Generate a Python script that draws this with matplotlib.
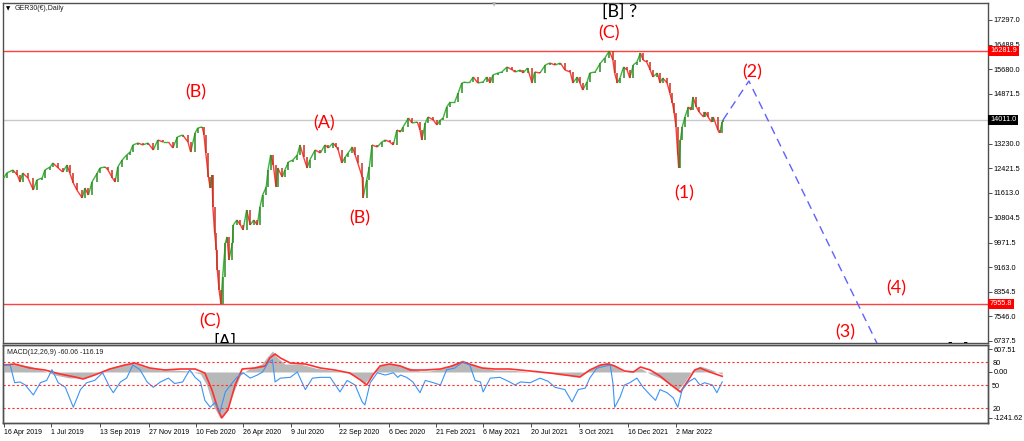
import numpy as np
import matplotlib.pyplot as plt
from matplotlib.collections import LineCollection
from matplotlib.transforms import blended_transform_factory

plt.rcParams['font.family'] = ['Liberation Sans', 'DejaVu Sans']

# GER30 dzienny: numer swiecy (od 16 Apr 2019) i kurs zamkniecia
swieca = np.array([
    0, 3, 10, 15, 18, 21, 27, 33, 37, 43, 46, 52, 55, 61, 66, 71, 74, 78, 82, 88,
    91, 95, 99, 105, 108, 114, 117, 122, 125, 128, 133, 138, 142, 145, 151, 156, 162, 168, 173, 179,
    185, 190, 195, 201, 207, 210, 215, 218, 223, 225, 227, 230, 232, 234, 235, 237, 239, 240, 242, 244,
    246, 249, 251, 253, 257, 258, 262, 266, 269, 273, 277, 281, 285, 288, 291, 295, 297, 300, 303, 306,
    308, 313, 316, 320, 325, 330, 333, 337, 341, 344, 350, 356, 361, 365, 370, 374, 376, 380, 384, 387,
    392, 395, 398, 403, 404, 408, 411, 414, 420, 425, 429, 434, 438, 442, 446, 449, 455, 459, 465, 468,
    470, 474, 477, 483, 487, 491, 494, 498, 502, 507, 511, 515, 519, 524, 528, 533, 539, 543, 547, 550,
    556, 560, 566, 572, 575, 581, 584, 589, 594, 597, 603, 609, 614, 620, 626, 631, 637, 640, 645, 648,
    651, 656, 659, 665, 671, 676, 681, 685, 687, 690, 693, 697, 701, 704, 708, 712, 716, 719, 723, 727,
    730, 735, 738, 741, 746, 749, 752, 754, 756, 758, 759, 761, 763, 766, 770, 773, 775, 779, 782, 787,
    789, 792, 796, 798, 803, 805, 808, 809])
zamkniecie = np.array([
    12099, 12263, 12362, 12198, 11967, 12263, 12099, 11704, 12033, 12099, 12362, 12461, 12592, 12428, 12296, 12527, 12263, 11934, 11704, 11441,
    11770, 11540, 11967, 12263, 12428, 12461, 12362, 12099, 11967, 12461, 12691, 12856, 12954, 13185, 13250, 13185, 13250, 13020, 13349, 13283,
    13283, 13086, 13448, 13514, 13283, 12954, 13579, 13744, 13777, 13514, 12921, 12132, 11770, 12198, 11145, 10289, 9727, 9072, 8414, 7960,
    8842, 9960, 10158, 9401, 9960, 10553, 10717, 10553, 10388, 11046, 10553, 10717, 10553, 11145, 11540, 11803, 12362, 12856, 12527, 11803,
    12428, 12132, 12362, 12625, 12691, 12856, 13185, 12790, 12428, 12691, 13020, 12921, 13185, 13086, 13250, 13119, 13020, 12592, 12790, 12921,
    13119, 12856, 12592, 12132, 11441, 12033, 12461, 13185, 13119, 13283, 13349, 13283, 13185, 13678, 13612, 13777, 14073, 13908, 13941, 13678,
    13349, 13908, 14106, 14007, 13843, 14007, 14073, 14435, 14599, 14599, 14895, 15224, 15257, 15257, 15422, 15224, 15257, 15422, 15224, 15488,
    15553, 15586, 15751, 15652, 15586, 15652, 15553, 15718, 15224, 15586, 15553, 15817, 15882, 15817, 15882, 15652, 15586, 15224, 15422, 15224,
    14994, 15257, 15553, 15586, 15882, 16047, 16280, 15981, 15553, 15224, 15389, 15751, 15652, 15389, 15817, 15915, 16211, 15981, 15915, 15652,
    15422, 15553, 15224, 15389, 15224, 14895, 14566, 14237, 13777, 12856, 12430, 13349, 13777, 14106, 14435, 14336, 14764, 14435, 14270, 14106,
    14270, 14106, 13941, 14106, 13678, 13579, 13941, 14011])

opor = 16281.9
wsparcie = 7955.8
cena_biezaca = 14011.0

# prognoza: (2) w gore, potem (3) w dol
prognoza_swieca = [809, 838, 1010]
prognoza_cena = [14011, 15290, 4990]

# oznaczenia fal: (swieca, cena, tekst, kolor)
fale = [
    (216, 14928, '(B)', 'red'),
    (360, 13908, '(A)', 'red'),
    (400, 10783, '(B)', 'red'),
    (232, 7394, '(C)', 'red'),
    (249, 6700, '[A]', 'black'),
    (681, 16869, '(C)', 'red'),
    (693, 17560, '[B] ?', 'black'),
    (765, 11605, '(1)', 'red'),
    (842, 15586, '(2)', 'red'),
    (946, 7032, '(3)', 'red'),
    (1004, 8480, '(4)', 'red'),
    (1073, 6420, '[C]', 'black'),
]

ceny_osi = [17297.0, 16488.5, 15680.0, 14871.5, 13230.0, 12421.5, 11613.0,
            10804.5, 9971.5, 9163.0, 8354.5, 7546.0, 6737.5]

# MACD(12,26,9): histogram i sygnal
macd_nr = [0, 12, 29, 46, 57, 74, 89, 102, 119, 136, 145, 159, 176, 192, 209, 221, 228, 235, 243, 250,
           257, 266, 277, 290, 297, 302, 307, 316, 333, 350, 367, 384, 398, 406, 414, 423, 434, 446, 457, 468,
           479, 496, 507, 516, 524, 536, 552, 569, 592, 614, 631, 646, 657, 668, 680, 687, 698, 708, 716, 727,
           738, 749, 758, 766, 774, 783, 794, 808]
macd = [216, 216, 162, 27, -81, -162, -162, -54, 108, 216, 243, 135, 54, 54, 27, -54, -351, -891, -1240, -1080,
        -621, -81, 108, 216, 432, 567, 405, 216, 216, 108, 54, 0, -135, -297, -81, 162, 216, 162, 108, 27,
        27, 108, 243, 324, 243, 135, 54, 54, 0, -27, -54, -135, 54, 189, 270, 162, 0, 27, 108, -54,
        -162, -324, -486, -270, 27, 162, 81, -60]
sygnal_nr = [0, 12, 29, 46, 63, 80, 89, 102, 119, 136, 147, 164, 181, 198, 215, 226, 234, 241, 245, 252,
             260, 268, 282, 294, 299, 305, 311, 322, 339, 356, 372, 389, 401, 408, 415, 423, 434, 446, 457, 474,
             491, 504, 516, 527, 538, 552, 569, 592, 614, 631, 648, 659, 671, 680, 687, 698, 708, 716, 727, 738,
             749, 761, 770, 777, 783, 794, 808]
sygnal = [189, 216, 108, 54, -54, -135, -189, -81, 81, 189, 243, 108, 54, 81, 81, -27, -486, -1026, -1240, -1026,
          -351, 81, 108, 162, 378, 486, 378, 243, 216, 108, 54, -27, -216, -351, -81, 162, 216, 162, 54, 54,
          81, 162, 270, 189, 108, 81, 81, 27, -27, -81, -135, 54, 189, 216, 162, 27, 0, 135, 54, -108,
          -324, -540, -216, 54, 108, 0, -116]

# oscylator (niebieski) z poziomami 80/50/20
osc_nr = [0, 7, 12, 18, 24, 33, 41, 48, 54, 61, 69, 78, 86, 93, 102, 111, 119, 123, 131, 138,
          145, 153, 161, 168, 176, 185, 192, 201, 209, 215, 221, 226, 232, 237, 243, 249, 257, 262, 269, 277,
          285, 291, 297, 302, 305, 311, 322, 330, 339, 347, 356, 367, 378, 386, 395, 403, 406, 412, 420, 429,
          438, 443, 446, 453, 460, 468, 474, 483, 491, 498, 507, 516, 524, 530, 536, 539, 547, 558, 569, 575,
          581, 592, 603, 612, 620, 631, 639, 646, 654, 659, 667, 674, 682, 685, 687, 693, 698, 704, 712, 719,
          727, 733, 738, 746, 753, 758, 763, 770, 777, 783, 788, 797, 802, 808]
osc = [76, 76, 53, 54, 50, 37, 53, 56, 70, 53, 47, 21, 44, 53, 56, 66, 47, 40, 54, 59,
       76, 70, 54, 47, 54, 59, 52, 54, 70, 60, 54, 30, 21, 27, 15, 41, 53, 60, 66, 59,
       63, 67, 79, 83, 54, 59, 60, 67, 44, 59, 60, 60, 41, 56, 50, 28, 24, 53, 66, 63,
       66, 60, 63, 60, 54, 40, 56, 53, 50, 70, 72, 80, 76, 56, 54, 41, 59, 60, 54, 50,
       54, 53, 59, 55, 47, 44, 28, 44, 46, 59, 72, 74, 76, 53, 21, 34, 50, 53, 59, 47,
       37, 30, 44, 40, 33, 21, 44, 54, 59, 50, 53, 50, 40, 54]
poziomy = [80, 50, 20]

daty_nr = [0, 53, 108, 163, 216, 269, 323, 377, 433, 486, 539, 593, 647, 702, 756]
daty = ['16 Apr 2019', '1 Jul 2019', '13 Sep 2019', '27 Nov 2019', '10 Feb 2020',
        '26 Apr 2020', '9 Jul 2020', '22 Sep 2020', '6 Dec 2020', '21 Feb 2021',
        '6 May 2021', '20 Jul 2021', '3 Oct 2021', '16 Dec 2021', '2 Mar 2022']

W, H = 1024, 441
fig = plt.figure(figsize=(W / 100, H / 100), dpi=100)
ax = fig.add_axes([3 / W, 1 - 343 / H, 985 / W, 340 / H])
ax2 = fig.add_axes([3 / W, 1 - 423 / H, 985 / W, 78 / H], sharex=ax)
ax3 = ax2.twinx()

rama = '#505050'
for a in (ax, ax2, ax3):
    for s in a.spines.values():
        s.set_color(rama)
        s.set_linewidth(1.0)

# --- wykres ceny ---
zmiana = np.diff(zamkniecie)
kolor_knot = np.where(zmiana >= 0, '#3cb43c', '#ff3b3b')
kolor_cialo = np.where(zmiana >= 0, '#2f8a24', '#c8321e')
odc = [[(swieca[i], zamkniecie[i]), (swieca[i + 1], zamkniecie[i + 1])] for i in range(len(zmiana))]
ax.add_collection(LineCollection(odc, colors=kolor_knot, linewidths=1.0, zorder=3))
ax.vlines(swieca[1:], np.minimum(zamkniecie[:-1], zamkniecie[1:]),
          np.maximum(zamkniecie[:-1], zamkniecie[1:]), colors=kolor_cialo, lw=1.1, zorder=3)

ax.axhline(opor, color='#ff4040', lw=1.0, zorder=2)
ax.axhline(wsparcie, color='#ff4040', lw=1.0, zorder=2)
ax.axhline(cena_biezaca, color='#c8c8c8', lw=1.0, zorder=1)

ax.plot(prognoza_swieca, prognoza_cena, color='#6060ff', lw=1.0, dashes=(6, 4), zorder=3)

for x, y, t, k in fale:
    ax.text(x, y, t, color=k, ha='center', va='center', fontsize=13,
            family=['Lato', 'DejaVu Sans'], zorder=4, clip_on=True)

ax.set_xlim(-1.1, 1107)
ax.set_ylim(6670, 17856)
ax.yaxis.tick_right()
ax.set_yticks(ceny_osi)
ax.set_yticklabels([f'{c:.1f}' for c in ceny_osi])
ax.tick_params(axis='y', length=3, width=0.6, labelsize=5.3, pad=1, color='#303030')
ax.tick_params(axis='x', bottom=False, labelbottom=False)

tr = blended_transform_factory(ax.transAxes, ax.transData)
for cena, tlo in ((opor, '#ff0000'), (cena_biezaca, '#000000'), (wsparcie, '#ff0000')):
    ax.text(1.002, cena, f'{cena:.1f}', transform=tr, ha='left', va='center', color='white',
            fontsize=5.3, clip_on=False, zorder=6,
            bbox=dict(boxstyle='square,pad=0.25', fc=tlo, ec='none'))

# --- panel MACD ---
ax2.fill_between(macd_nr, 0, macd, color='#b8b8b8', lw=0, zorder=1)
ax2.plot(sygnal_nr, sygnal, color='#ff3030', lw=1.2, zorder=3)
ax2.set_ylim(-1377, 729)
ax2.yaxis.tick_right()
ax2.set_yticks([607.51, 0, -1241.62])
ax2.set_yticklabels(['607.51', '0.00', '-1241.62'])
ax2.tick_params(axis='y', length=3, width=0.6, labelsize=5.3, pad=1, color='#303030')

ax3.plot(osc_nr, osc, color='#3b94f5', lw=0.8, zorder=2)
for p in poziomy:
    ax3.axhline(p, color='#ff3030', lw=0.8, dashes=(2, 2))
ax3.set_ylim(0.46, 102.2)
ax3.set_yticks(poziomy)
ax3.set_yticklabels([str(p) for p in poziomy])
ax3.tick_params(axis='y', length=0, labelsize=5.3, pad=3)

ax2.set_xticks(daty_nr)
ax2.set_xticklabels(daty, ha='left')
ax2.tick_params(axis='x', length=3, width=0.6, labelsize=5, pad=1, color='#303030')

fig.text(6 / W, 1 - 9 / H, '\u25bc', fontsize=4, va='center', family='DejaVu Sans')
fig.text(15 / W, 1 - 9 / H, 'GER30(\u20ac),Daily', fontsize=5, va='center', color='#202020')
fig.text(7 / W, 1 - 352 / H, 'MACD(12,26,9) -60.06 -116.19', fontsize=5, va='center', color='#202020')
fig.text(494 / W, 1 - 5 / H, '\u25bc', fontsize=4, va='center', ha='center', color='#b0b0b0',
         family='DejaVu Sans')

fig.savefig('out.png', dpi=100)
